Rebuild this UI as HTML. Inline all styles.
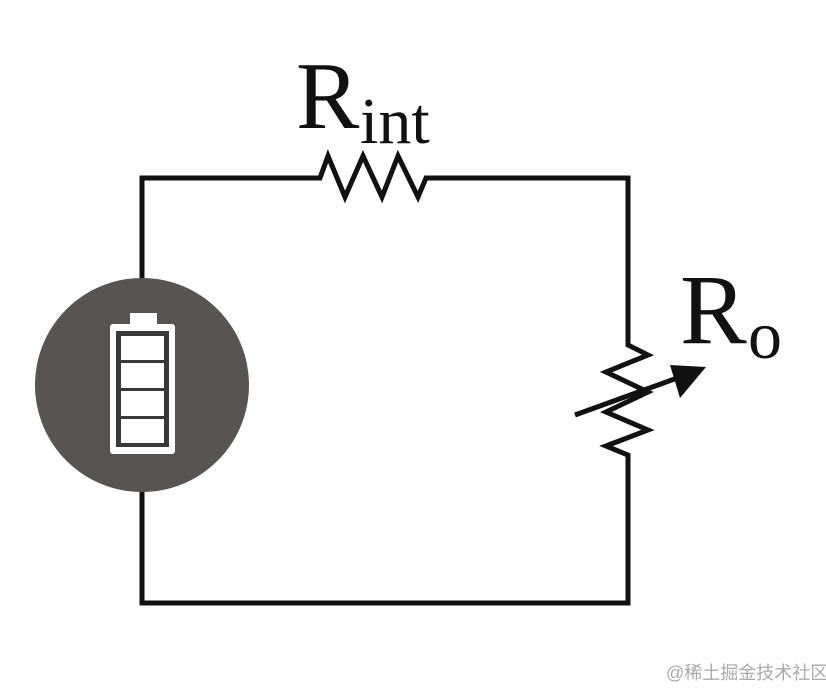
<!DOCTYPE html>
<html><head><style>
body{margin:0;background:#fff;}
svg{display:block}
</style></head><body>
<svg width="826" height="690" viewBox="0 0 826 690" xmlns="http://www.w3.org/2000/svg">
<g fill="none" stroke="#111" stroke-width="5" stroke-linejoin="miter">
<polyline points="142,280 142,178 320,178 328,156 345,197 363,156 382,197 398,156 418,197 426,178 628,178 628,345 648,355 606,372 648,392 606,412 648,430 606,446 628,455 628,603 142,603 142,490"/>
<line x1="575" y1="415" x2="680" y2="377"/>
</g>
<polygon points="706,367 670,365 680,398" fill="#111"/>
<circle cx="142" cy="385" r="107" fill="#575453"/>
<rect x="130" y="313" width="27" height="14" fill="#fff"/>
<rect x="110" y="324" width="65" height="130" rx="3" fill="#fff"/>
<rect x="116" y="331" width="53" height="116" fill="#3a3838"/>
<g fill="#fff">
<rect x="121" y="336" width="43" height="24"/>
<rect x="121" y="363" width="43" height="25"/>
<rect x="121" y="391" width="43" height="25"/>
<rect x="121" y="419" width="43" height="24"/>
</g>
<text x="296" y="128" font-family="Liberation Serif, serif" font-size="95" fill="#111">R</text>
<text x="360" y="143" font-family="Liberation Serif, serif" font-size="66" fill="#111">int</text>
<text x="680" y="343" font-family="Liberation Serif, serif" font-size="100" fill="#111">R</text>
<text x="748" y="358" font-family="Liberation Serif, serif" font-size="68" fill="#111">o</text>
<text x="666" y="679" font-family="Liberation Sans, Noto Sans CJK SC, sans-serif" font-size="18" fill="#aaa">@稀土掘金技术社区</text>
</svg>
</body></html>
